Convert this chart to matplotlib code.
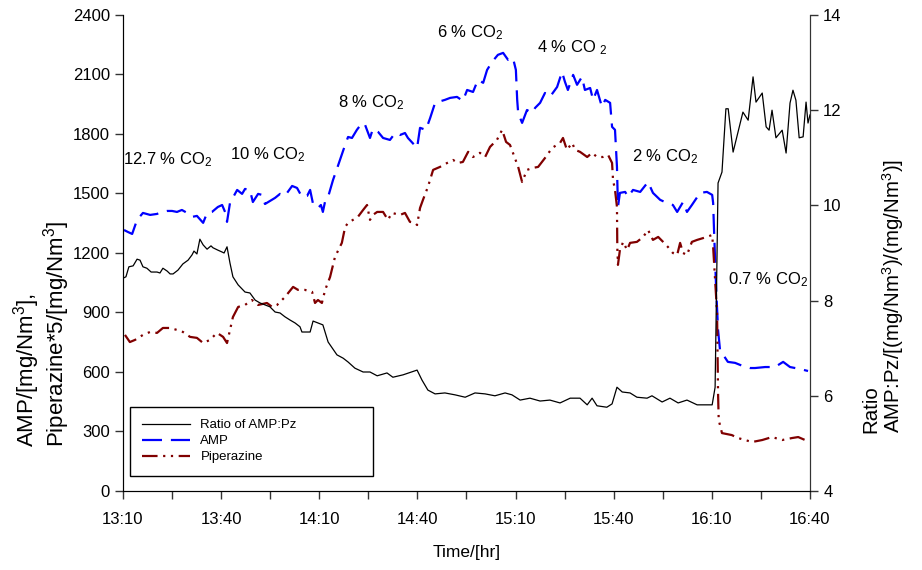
import numpy as np
import matplotlib
matplotlib.use('Agg')
import matplotlib.pyplot as plt
from matplotlib.lines import Line2D
from matplotlib.ticker import MultipleLocator, FuncFormatter

plt.rcParams['font.family'] = ['Liberation Sans', 'DejaVu Sans']
plt.rcParams['mathtext.default'] = 'regular'

START = 13 * 60 + 10  # minutes since midnight at 13:10

# AMP concentration [mg/Nm3], time in minutes after 13:10
amp_t = [0.3, 1.5, 2.8, 4.3, 6.1, 8.3, 10.4, 11.9, 13.5, 15.0, 16.5, 18.0, 19.6, 21.1, 22.6,
         24.5, 25.7, 27.2, 29.0, 30.3, 31.2, 31.8, 32.7, 34.9, 36.4, 37.3, 38.8, 39.7, 41.3,
         42.5, 43.4, 44.9, 46.5, 48.0, 49.5, 51.7, 53.2, 54.7, 56.3, 57.2, 58.1, 59.6, 60.5,
         61.1, 61.8, 62.7, 64.2, 65.7, 67.9, 68.8, 70.0, 71.5, 73.1, 74.0, 75.5, 76.4, 78.0,
         79.5, 81.6, 83.2, 84.7, 86.2, 87.1, 89.9, 90.8, 92.6, 93.9, 95.4, 98.4, 100.0, 102.1,
         103.9, 105.2, 107.0, 108.5, 110.1, 111.3, 112.8, 114.6, 116.2, 117.7, 119.2, 120.1,
         120.5, 120.8, 122.0, 123.5, 125.0, 126.0, 127.5, 129.0, 130.5, 132.7, 134.2, 135.1,
         136.0, 137.6, 138.8, 140.3, 141.2, 142.8, 143.7, 144.9, 146.4, 147.4, 148.9, 149.5,
         150.4, 151.0, 151.3, 151.9, 153.5, 154.4, 155.9, 158.1, 160.5, 162.0, 164.2, 166.3,
         168.1, 169.4, 171.2, 172.4, 173.9, 176.4, 178.5, 180.1, 180.4, 180.7, 181.3, 181.9,
         182.5, 184.9, 187.1, 189.5, 191.7, 193.2, 196.3, 199.3, 201.8, 203.9, 207.0, 209.4]
amp_v = [1316, 1306, 1296, 1367, 1402, 1392, 1397, 1407, 1412, 1412, 1407, 1417, 1402, 1382, 1387,
         1352, 1402, 1407, 1432, 1442, 1407, 1357, 1452, 1518, 1498, 1523, 1518, 1457, 1498,
         1493, 1447, 1462, 1478, 1498, 1488, 1538, 1528, 1483, 1488, 1518, 1447, 1427, 1442,
         1407, 1462, 1483, 1568, 1639, 1745, 1785, 1780, 1821, 1856, 1846, 1780, 1826, 1810,
         1780, 1770, 1805, 1795, 1805, 1780, 1730, 1831, 1821, 1881, 1957, 1972, 1982, 1987,
         1967, 2022, 2012, 2073, 2058, 2123, 2163, 2199, 2209, 2174, 2184, 2123,
         1972, 1906, 1856, 1921, 1906, 1932, 1957, 2007, 1987, 2037, 2113, 2063,
         2022, 2098, 2048, 2088, 2022, 2032, 1972, 2022, 1937, 1972, 1957, 1836,
         1821, 1634, 1432, 1503, 1508, 1483, 1518, 1508, 1558, 1503, 1468, 1452,
         1442, 1407, 1457, 1407, 1442, 1503, 1508, 1493, 1452, 1301, 1029, 812,
         711, 651, 646, 630, 620, 620, 625, 625, 651, 625, 615, 605]

# Piperazine*5 [mg/Nm3]
pz_t = [0.6, 2.1, 3.7, 6.1, 8.3, 10.4, 12.2, 14.4, 16.5, 18.3, 20.5, 22.6, 24.5, 26.6, 28.7,
        29.7, 30.6, 31.8, 32.7, 33.6, 35.2, 37.3, 39.4, 41.3, 44.0, 45.6, 47.1, 49.5, 52.0,
        53.5, 55.6, 57.8, 58.7, 59.6, 60.8, 61.8, 63.3, 64.8, 66.9, 67.9, 68.8, 70.3, 71.8,
        73.4, 74.6, 75.5, 76.4, 77.7, 79.5, 81.0, 82.2, 84.7, 86.2, 87.7, 89.3, 89.9, 90.8,
        91.7, 93.2, 94.8, 96.9, 99.1, 100.9, 102.4, 103.9, 105.5, 107.0, 109.1, 110.7, 112.2,
        114.3, 115.9, 117.1, 118.3, 119.2, 120.8, 122.0, 123.5, 125.3, 126.9, 129.0, 131.2,
        133.6, 134.5, 135.7, 137.3, 138.2, 139.7, 141.9, 143.4, 144.9, 146.7, 148.3, 149.5,
        149.8, 150.4, 151.0, 151.1, 151.3, 151.9, 152.9, 154.1, 155.0, 157.1, 159.0, 160.5,
        162.0, 163.6, 165.1, 166.6, 168.1, 169.4, 170.3, 171.2, 172.4, 173.9, 175.5, 178.5,
        180.1, 180.4, 181.0, 181.6, 181.9, 182.1, 183.1, 186.1, 188.0, 190.2, 192.3, 195.4,
        198.4, 201.5, 204.5, 206.4, 208.5, 209.4]
pz_v = [787, 751, 762, 787, 802, 797, 822, 822, 812, 802, 777, 772, 746, 762, 797,
        787, 777, 746, 812, 877, 928, 938, 963, 938, 948, 928, 938, 978, 1029,
        1014, 1014, 1004, 948, 963, 948, 1014, 1079, 1180, 1251, 1331, 1352, 1367, 1382,
        1417, 1442, 1367, 1392, 1407, 1407, 1367, 1402, 1392, 1402, 1357, 1352, 1341, 1427,
        1468, 1533, 1619, 1634, 1654, 1669, 1654, 1659, 1710, 1684, 1705, 1684, 1735,
        1770, 1821, 1760, 1745, 1705, 1634, 1558, 1619, 1629, 1634, 1679, 1730,
        1755, 1780, 1720, 1755, 1720, 1710, 1684, 1705, 1684, 1684, 1694, 1654,
        1568, 1518, 1432, 1230, 1140, 1215, 1256, 1215, 1251, 1256, 1281, 1316,
        1266, 1281, 1256, 1230, 1200, 1190, 1251, 1200, 1190, 1256, 1266, 1281,
        1291, 1230, 1064, 898, 494, 358, 292, 282, 267, 257, 247, 257,
        272, 257, 267, 272, 257, 257]

# AMP:Pz ratio
ratio_t = [0.0, 0.9, 1.8, 3.1, 4.3, 5.2, 6.1, 7.3, 8.6, 10.4, 11.3, 12.2, 13.5, 14.4, 15.3,
           16.8, 18.3, 19.9, 21.1, 21.7, 22.6, 23.5, 24.5, 25.7, 26.9, 27.5, 29.0, 30.3, 30.9,
           31.8, 32.7, 33.6, 35.2, 37.3, 38.8, 40.4, 41.9, 43.4, 44.9, 46.5, 48.0, 49.5, 51.1,
           52.6, 54.1, 54.7, 57.2, 58.1, 61.1, 62.7, 65.4, 67.3, 68.8, 70.9, 73.4, 75.5, 77.7,
           80.7, 82.5, 85.6, 89.9, 91.4, 93.2, 95.4, 98.4, 101.5, 104.6, 107.6, 110.7, 113.7,
           116.8, 118.9, 121.4, 124.4, 127.5, 130.5, 133.6, 136.7, 139.7, 141.9, 143.4, 144.9,
           147.9, 149.5, 151.0, 152.6, 155.0, 157.1, 160.2, 161.7, 164.8, 167.2, 169.7, 172.4,
           175.5, 177.9, 180.1, 181.0, 181.9, 183.1, 184.3, 185.0, 186.5, 188.0, 189.5, 191.1,
           192.6, 193.5, 195.4, 196.6, 197.5, 198.4, 199.6, 201.5, 202.7, 203.9, 204.8, 205.7,
           206.7, 207.9, 208.8, 209.4, 210.0]
ratio_v = [8.47, 8.50, 8.71, 8.73, 8.87, 8.85, 8.71, 8.68, 8.60, 8.60, 8.58, 8.68, 8.62, 8.56, 8.56,
           8.64, 8.77, 8.85, 8.96, 9.04, 8.98, 9.29, 9.17, 9.08, 9.15, 9.11, 9.06, 9.02, 9.00,
           9.13, 8.79, 8.50, 8.33, 8.18, 8.16, 8.01, 7.95, 7.91, 7.87, 7.76, 7.74, 7.66, 7.59,
           7.53, 7.45, 7.34, 7.34, 7.57, 7.49, 7.13, 6.86, 6.79, 6.71, 6.58, 6.50, 6.50, 6.42,
           6.48, 6.39, 6.44, 6.54, 6.33, 6.12, 6.04, 6.06, 6.02, 5.97, 6.06, 6.04, 6.00,
           6.06, 6.02, 5.91, 5.95, 5.89, 5.91, 5.85, 5.95, 5.95, 5.81, 5.95, 5.79,
           5.76, 5.83, 6.18, 6.08, 6.06, 5.97, 5.95, 6.00, 5.87, 5.95, 5.85, 5.91,
           5.81, 5.81, 5.81, 6.18, 10.47, 10.70, 12.03, 12.03, 11.12, 11.54, 11.96, 11.79,
           12.70, 12.17, 12.36, 11.65, 11.58, 12.00, 11.42, 11.58, 11.10, 12.15, 12.42, 12.21,
           11.42, 11.44, 12.17, 11.73, 11.90]

# CO2 level labels: text, time (min), left-axis height
co2_labels = ['12.7 % CO$_2$', '10 % CO$_2$', '8 % CO$_2$', '6 % CO$_2$',
              '4 % CO $_2$', '2 % CO$_2$', '0.7 % CO$_2$']
co2_t = [0, 32.7, 65.7, 96, 126.6, 155.6, 185]
co2_v = [1669, 1694, 1957, 2310, 2234, 1684, 1064]

AMP_COLOR = '#0000ff'
PZ_COLOR = '#800000'
amp_style = (0, (9, 4))
pz_style = (0, (7, 2.5, 1, 2.5, 1, 2.5))

fig = plt.figure(figsize=(9.22, 5.70), dpi=100)
ax = fig.add_axes([0.1334, 0.1386, 0.7451, 0.8351])

ax.plot(amp_t, amp_v, color=AMP_COLOR, lw=1.6, ls=amp_style)
ax.plot(pz_t, pz_v, color=PZ_COLOR, lw=1.6, ls=pz_style)

ax.set_xlim(0, 210)
ax.set_ylim(0, 2400)
ax.xaxis.set_major_locator(MultipleLocator(30))
ax.xaxis.set_minor_locator(MultipleLocator(15))
ax.xaxis.set_major_formatter(FuncFormatter(
    lambda m, pos: '%d:%02d' % divmod(int(round(START + m)), 60)))
ax.yaxis.set_major_locator(MultipleLocator(300))
ax.tick_params(axis='both', which='both', direction='out', length=6, width=1,
               labelsize=12, color='#333333')
ax.tick_params(axis='x', pad=9)
ax.spines['top'].set_visible(False)
for s in ('left', 'bottom', 'right'):
    ax.spines[s].set_color('#333333')

ax2 = ax.twinx()
ax2.plot(ratio_t, ratio_v, color='black', lw=0.9)
ax2.set_ylim(4, 14)
ax2.yaxis.set_major_locator(MultipleLocator(2))
ax2.tick_params(axis='y', direction='out', length=6, width=1, labelsize=12,
                color='#333333')
ax2.spines['top'].set_visible(False)
ax2.spines['right'].set_color('#333333')

for txt, t, v in zip(co2_labels, co2_t, co2_v):
    ax.text(t, v, txt, fontsize=12, ha='left', va='center')

ax.set_xlabel('Time/[hr]', fontsize=12.5, labelpad=13)
ax.set_ylabel('AMP/[mg/Nm$^3$],\nPiperazine*5/[mg/Nm$^3$]', fontsize=16,
              multialignment='left', linespacing=0.95)
ax.yaxis.set_label_coords(-0.074, 0.092)
ax.yaxis.label.set_ha('left')
ax.yaxis.label.set_va('bottom')

ax2.set_ylabel('Ratio\nAMP:Pz/[(mg/Nm$^3$)/(mg/Nm$^3$)]', fontsize=14.8,
               multialignment='left', linespacing=1.0, rotation=90)
ax2.yaxis.set_label_coords(1.075, 0.122)
ax2.yaxis.label.set_ha('left')
ax2.yaxis.label.set_va('top')

handles = [Line2D([], [], color='black', lw=0.9),
           Line2D([], [], color=AMP_COLOR, lw=1.6, ls=amp_style),
           Line2D([], [], color=PZ_COLOR, lw=1.6, ls=pz_style)]
leg = ax2.legend(handles, ['Ratio of AMP:Pz', 'AMP', 'Piperazine'],
                 loc='lower left', bbox_to_anchor=(0.01, 0.032, 0.354, 0.147),
                 mode='expand', borderaxespad=0,
                 fontsize=9.5, handlelength=3.6, handletextpad=0.8, fancybox=False,
                 framealpha=1, edgecolor='black', borderpad=0.95, labelspacing=0.28)
leg.get_frame().set_linewidth(1.0)

fig.savefig('out.png', dpi=100)
